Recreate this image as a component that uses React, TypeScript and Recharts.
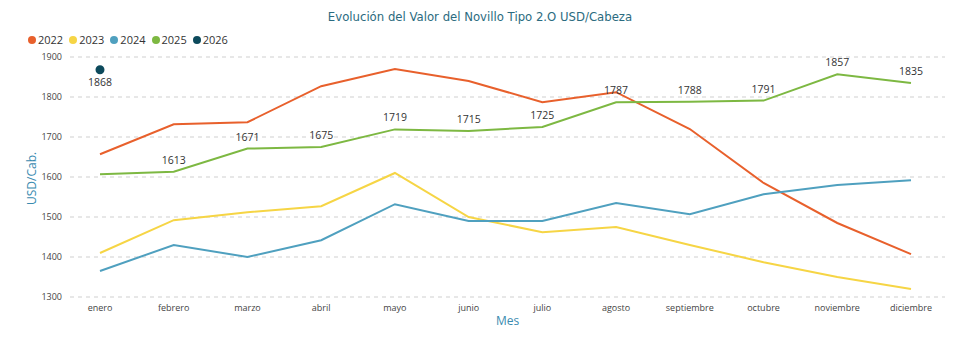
import React from 'react';
import { LineChart, Line, XAxis, YAxis, CartesianGrid, Legend, LabelList } from 'recharts';

const months = ['enero', 'febrero', 'marzo', 'abril', 'mayo', 'junio', 'julio', 'agosto', 'septiembre', 'octubre', 'noviembre', 'diciembre'];
const v2022 = [1657, 1732, 1737, 1827, 1870, 1840, 1787, 1812, 1720, 1585, 1485, 1407];
const v2023 = [1410, 1492, 1512, 1527, 1610, 1500, 1462, 1475, 1430, 1387, 1350, 1320];
const v2024 = [1365, 1430, 1400, 1442, 1532, 1490, 1490, 1535, 1507, 1557, 1580, 1592];
const v2025 = [1607, 1613, 1671, 1675, 1719, 1715, 1725, 1787, 1788, 1791, 1857, 1835];
const v2026: (number | null)[] = [1868, null, null, null, null, null, null, null, null, null, null, null];
const yTicks = [1300, 1400, 1500, 1600, 1700, 1800, 1900];

const data = months.map((m, i) => ({
  mes: m,
  y2022: v2022[i],
  y2023: v2023[i],
  y2024: v2024[i],
  y2025: v2025[i],
  y2026: v2026[i],
}));

const FONT = '"Open Sans", "Noto Sans", sans-serif';

const Label2025 = (props: any) => {
  const { x, y, value, index } = props;
  if (index === 0 || value == null) return null;
  return (
    <text x={x} y={y - 8} textAnchor="middle" fontSize={10.5} fill="#333" fontFamily={FONT}>
      {value}
    </text>
  );
};

const Label2026 = (props: any) => {
  const { x, y, value } = props;
  if (value == null) return null;
  return (
    <text x={x} y={y + 16} textAnchor="middle" fontSize={10.5} fill="#333" fontFamily={FONT}>
      {value}
    </text>
  );
};

const LegendContent = (props: any) => {
  const { payload } = props;
  return (
    <div style={{ display: 'flex', fontFamily: FONT, fontSize: 11, color: '#333', lineHeight: '14px' }}>
      {(payload || []).map((p: any) => (
        <div key={p.value} style={{ display: 'flex', alignItems: 'center', marginRight: 6 }}>
          <span
            style={{ width: 8, height: 8, borderRadius: 4, background: p.color, display: 'inline-block', marginRight: 2 }}
          />
          <span>{p.value}</span>
        </div>
      ))}
    </div>
  );
};

export default function App() {
  return (
    <div style={{ position: 'absolute', left: 0, top: 0, width: 960, height: 338, background: '#fff' }}>
      <div
        style={{
          position: 'absolute',
          left: 0,
          top: 10,
          width: 960,
          textAlign: 'center',
          fontFamily: '"DejaVu Sans", Verdana, sans-serif',
          fontSize: 11.7,
          color: '#2B6B80',
        }}
      >
        Evolución del Valor del Novillo Tipo 2.O USD/Cabeza
      </div>
      <LineChart width={960} height={338} data={data} margin={{ top: 43, right: 15, bottom: 11, left: 20 }}>
        <CartesianGrid horizontal vertical={false} stroke="#cfcfcf" strokeDasharray="4 4" />
        <XAxis
          dataKey="mes"
          axisLine={false}
          tickLine={false}
          padding={{ left: 30, right: 34 }}
          tick={{ fontSize: 9, fill: '#444', fontFamily: FONT }}
          height={30}
          interval={0}
          label={{ value: 'Mes', position: 'insideBottom', offset: 2, fill: '#3A8BB0', fontSize: 12, fontFamily: FONT }}
        />
        <YAxis
          domain={[1300, 1900]}
          ticks={yTicks}
          axisLine={false}
          tickLine={false}
          width={50}
          tick={{ fontSize: 9, fill: '#444', fontFamily: FONT }}
          label={{ value: 'USD/Cab.', angle: -90, position: 'insideLeft', offset: 12, dy: 28, fill: '#3A8BB0', fontSize: 12, fontFamily: FONT }}
        />
        <Legend
          verticalAlign="top"
          align="left"
          height={0}
          content={LegendContent}
          wrapperStyle={{ top: 33, left: 28, height: 14 }}
        />
        <Line name="2022" dataKey="y2022" type="linear" stroke="#E8602C" strokeWidth={2} dot={false} isAnimationActive={false} />
        <Line name="2023" dataKey="y2023" type="linear" stroke="#F6D545" strokeWidth={2} dot={false} isAnimationActive={false} />
        <Line name="2024" dataKey="y2024" type="linear" stroke="#4FA0BF" strokeWidth={2} dot={false} isAnimationActive={false} />
        <Line name="2025" dataKey="y2025" type="linear" stroke="#7DB842" strokeWidth={2} dot={false} isAnimationActive={false}>
          <LabelList dataKey="y2025" content={Label2025} />
        </Line>
        <Line
          name="2026"
          dataKey="y2026"
          type="linear"
          stroke="#0D4A5C"
          strokeWidth={2}
          dot={{ r: 3.5, fill: '#0D4A5C', stroke: '#0D4A5C' }}
          isAnimationActive={false}
        >
          <LabelList dataKey="y2026" content={Label2026} />
        </Line>
      </LineChart>
    </div>
  );
}
